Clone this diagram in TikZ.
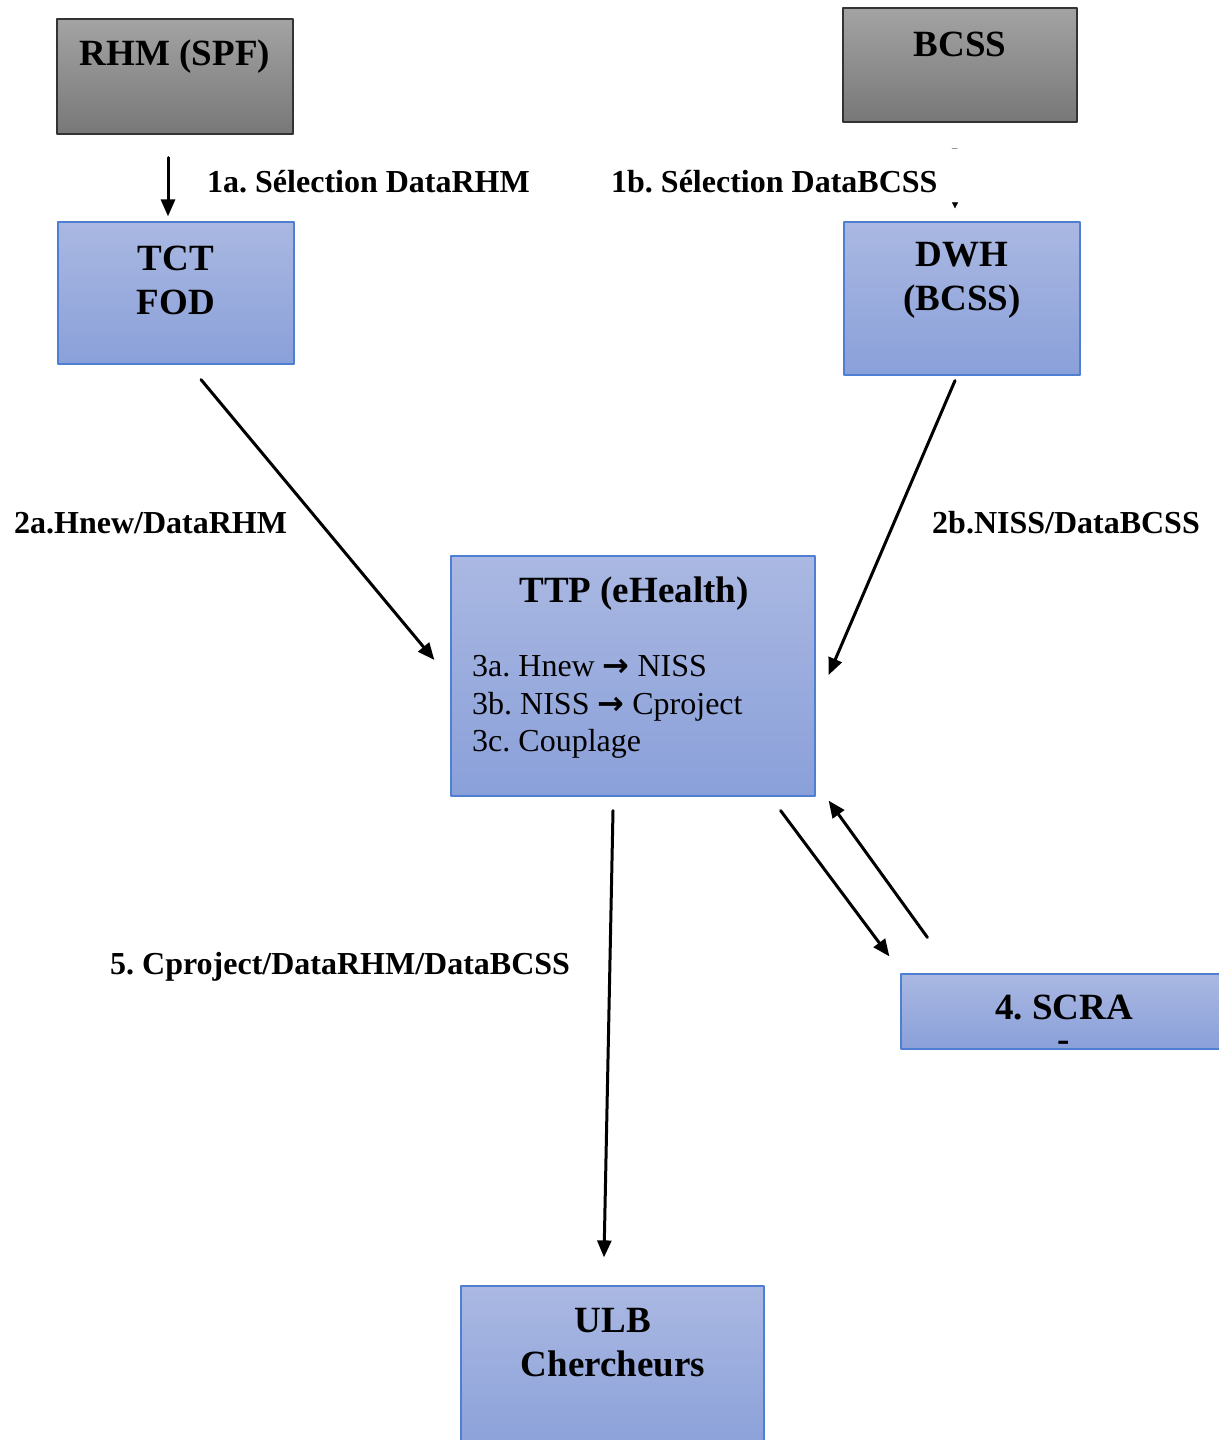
\documentclass[tikz,border=0pt]{standalone}
\usepackage{fontspec}
\setmainfont{Liberation Serif}
\newfontfamily\arrowfont{DejaVu Sans}
\usetikzlibrary{arrows.meta}
\usetikzlibrary{positioning}
\frenchspacing

\definecolor{bluetop}{HTML}{AAB8E2}
\definecolor{bluebot}{HTML}{8AA0D9}
\definecolor{blueedge}{HTML}{4F7FD2}
\newcommand{\thickarrow}{{\arrowfont\bfseries →}}

\begin{document}
\begin{tikzpicture}[line cap=round,line join=round, x=1pt,y=-1pt,
  graybox/.style={draw=black!80, line width=1.2pt, top color=black!36, bottom color=black!53, inner sep=0pt},
  bluebox/.style={draw=blueedge, line width=1.2pt, top color=bluetop, bottom color=bluebot, inner sep=0pt},
  titletext/.style={font=\fontsize{37}{44}\selectfont\bfseries, align=center, inner sep=0pt},
  labeltext/.style={font=\fontsize{32}{38}\selectfont\bfseries, anchor=west, inner sep=0pt},
  bodytext/.style={font=\fontsize{32}{37.5}\selectfont, align=left, anchor=west, inner sep=0pt},
  arr/.style={line width=3pt, -{Triangle[length=17pt, width=14pt]}}]
\useasboundingbox (0,0) rectangle (1218,1440);
% boxes
\node [graybox, minimum width=236pt, minimum height=115pt] (rhm) at (175,76.5) {};
\node [graybox, minimum width=234pt, minimum height=114pt] (bcss) at (960,65) {};
\node [bluebox, minimum width=236pt, minimum height=142pt] (tct) at (176,293) {};
\node [bluebox, minimum width=236pt, minimum height=153pt] (dwh) at (962,298.5) {};
\node [bluebox, minimum width=364pt, minimum height=240pt] (ttp) at (633,676) {};
\node [bluebox, minimum width=334pt, minimum height=75pt] (scra) at (1068,1011.5) {};
\node [bluebox, minimum width=303pt, minimum height=170pt] (ulb) at (612.5,1371) {};
% box texts
\node [titletext] (rhmtxt) at (175,57) {RHM (SPF)};
\node [titletext] (bcsstxt) at (960,44) {BCSS};
\node [titletext] (tcttxt) at (176,280) {TCT\\FOD};
\node [titletext] (dwhtxt) at (962,280) {DWH\\(BCSS)};
\node [titletext] (ttptxt) at (634,594) {TTP (eHealth)};
\node [bodytext] (steps) at (472,707) {3a. Hnew \thickarrow\ NISS\\3b. NISS \thickarrow\ Cproject\\3c. Couplage};
\node [titletext, font=\fontsize{37}{32}\selectfont\bfseries] (scratxt) at (1064,1023) {4. SCRA\\-};
\node [titletext] (ulbtxt) at (613,1343) {ULB\\Chercheurs};
% connector labels
\node [labeltext] (l1a) at (207,182) {1a. Sélection DataRHM};
\node [labeltext] (l1b) at (611,182) {1b. Sélection DataBCSS};
\node [labeltext] (l2a) at (14,523) {2a.Hnew/DataRHM};
\node [labeltext] (l2b) at (932,523) {2b.NISS/DataBCSS};
\node [labeltext] (l5) at (110,967) {5. Cproject/DataRHM/DataBCSS};
% connectors
\draw [arr] ([shift={(-7,23)}]rhm.south) -- ([shift={(-8,-5)}]tct.north);
\draw [black!40, line width=1pt] ([shift={(-8,26)}]bcss.south) -- ++(5,0);
\draw [white, line width=0.5pt, -{Triangle[color=black, length=6pt, width=6pt]}] ([shift={(-5,29)}]bcss.south) -- ([shift={(-7,-13)}]dwh.north);
\draw [arr] ([shift={(25,15)}]tct.south) -- ([shift={(-16,-16)}]ttp.west);
\draw [arr] ([shift={(-7,5)}]dwh.south) -- ([shift={(13,-1)}]ttp.east);
\draw [arr] ([shift={(-20,14)}]ttp.south) -- ([shift={(-8.5,-28)}]ulb.north);
\draw [arr] ([shift={(-35,14)}]ttp.south east) -- ([shift={(-11,-17)}]scra.north west);
\draw [arr] ([shift={(27,-36)}]scra.north west) -- ([shift={(13,4)}]ttp.south east);
\end{tikzpicture}
\end{document}
